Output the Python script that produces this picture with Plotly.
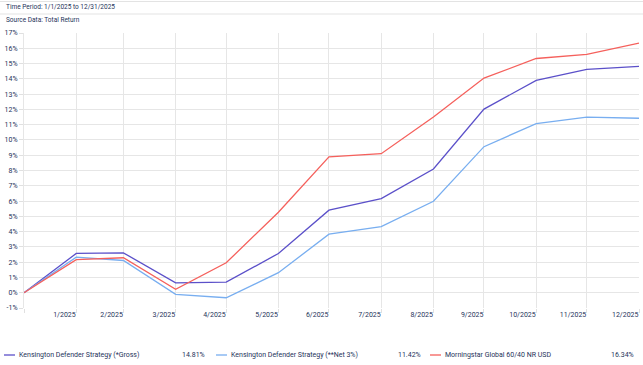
import plotly.graph_objects as go

# ---- data ----
dates = ["2024-12-31", "2025-01-31", "2025-02-28", "2025-03-31", "2025-04-30", "2025-05-31",
         "2025-06-30", "2025-07-31", "2025-08-31", "2025-09-30", "2025-10-31", "2025-11-30",
         "2025-12-31"]
tick_labels = ["", "1/2025", "2/2025", "3/2025", "4/2025", "5/2025", "6/2025", "7/2025",
               "8/2025", "9/2025", "10/2025", "11/2025", "12/2025"]
gross = [0, 2.57, 2.61, 0.65, 0.69, 2.57, 5.40, 6.16, 8.10, 12.02, 13.90, 14.62, 14.81]
net = [0, 2.33, 2.11, -0.11, -0.33, 1.31, 3.83, 4.33, 5.99, 9.56, 11.07, 11.50, 11.42]
bench = [0, 2.16, 2.29, 0.22, 1.96, 5.27, 8.89, 9.10, 11.50, 14.05, 15.33, 15.60, 16.34]
names = ["Kensington Defender Strategy (*Gross)",
         "Kensington Defender Strategy (**Net 3%)",
         "Morningstar Global 60/40 NR USD"]
colors = ["#5b50c9", "#78aef0", "#f5605c"]
series = [gross, net, bench]
y_ticks = list(range(-1, 18))

# ---- layout geometry (pixels) ----
W_PX, H_PX = 643, 365
L, R, T, B = 24, 639, 33, 308
PW, PH = R - L, B - T
def px(x):
    return (x - L) / PW
def py(y):
    return (B - y) / PH

TXT = "#25335a"
FONT = "Roboto"

fig = go.Figure()
for nm, vals, c in zip(names, series, colors):
    fig.add_trace(go.Scatter(x=dates, y=vals, mode="lines", name=nm,
                             line=dict(color=c, width=1.3), showlegend=False))

fig.update_layout(
    width=W_PX, height=H_PX,
    margin=dict(l=L, r=W_PX - R, t=T, b=H_PX - B),
    plot_bgcolor="white", paper_bgcolor="white",
    font=dict(family=FONT, size=7, color=TXT),
)
fig.update_xaxes(
    type="date", range=[dates[0], dates[-1]],
    tickvals=dates, ticktext=tick_labels,
    showgrid=True, gridcolor="#e6e6e6", gridwidth=1,
    ticks="outside", ticklen=4, tickcolor="#e0e0e0",
    ticklabelposition="outside left",
    tickfont=dict(family=FONT, size=7, color=TXT),
    zeroline=False, showline=False,
)
fig.update_yaxes(
    range=[-1, 17], tickvals=y_ticks, ticktext=[f"{v}%" for v in y_ticks],
    showgrid=True, gridcolor="#e6e6e6", gridwidth=1,
    ticks="outside", ticklen=4, tickcolor="#e0e0e0",
    tickfont=dict(family=FONT, size=7, color=TXT),
    zeroline=False, showline=True, linecolor="#e6e6e6", linewidth=1,
)

# header
shapes = []
for yy in (1.5, 14):
    shapes.append(dict(type="line", xref="paper", yref="paper",
                       x0=px(0), x1=px(W_PX), y0=py(yy), y1=py(yy),
                       line=dict(color="#e3e3e3", width=1)))
ann = [
    dict(text="Time Period: 1/1/2025 to 12/31/2025", x=px(4), y=py(7.5),
         font=dict(family=FONT, size=6.5, color=TXT)),
    dict(text="Source Data: Total Return", x=px(4), y=py(20),
         font=dict(family=FONT, size=6.5, color=TXT)),
]

# custom legend
leg_y = 355
leg_x = [4, 216, 430]
pct_right = [207, 423, 636]
for i, (nm, vals, c) in enumerate(zip(names, series, colors)):
    x0 = leg_x[i]
    shapes.append(dict(type="line", xref="paper", yref="paper",
                       x0=px(x0), x1=px(x0 + 11), y0=py(leg_y), y1=py(leg_y),
                       line=dict(color=c, width=1.3)))
    ann.append(dict(text=nm, x=px(x0 + 13), y=py(leg_y)))
    ann.append(dict(text=f"{vals[-1]:.2f}%", x=px(pct_right[i]), y=py(leg_y),
                    xanchor="right"))

annotations = []
for a in ann:
    d = dict(xref="paper", yref="paper", showarrow=False, xanchor="left",
             yanchor="middle", font=dict(family=FONT, size=7, color=TXT))
    d.update(a)
    annotations.append(d)

fig.update_layout(shapes=shapes, annotations=annotations)
fig.write_html("out.html", config={"displayModeBar": False},
               post_script="document.body.style.margin='0px';document.body.style.overflow='hidden';")
